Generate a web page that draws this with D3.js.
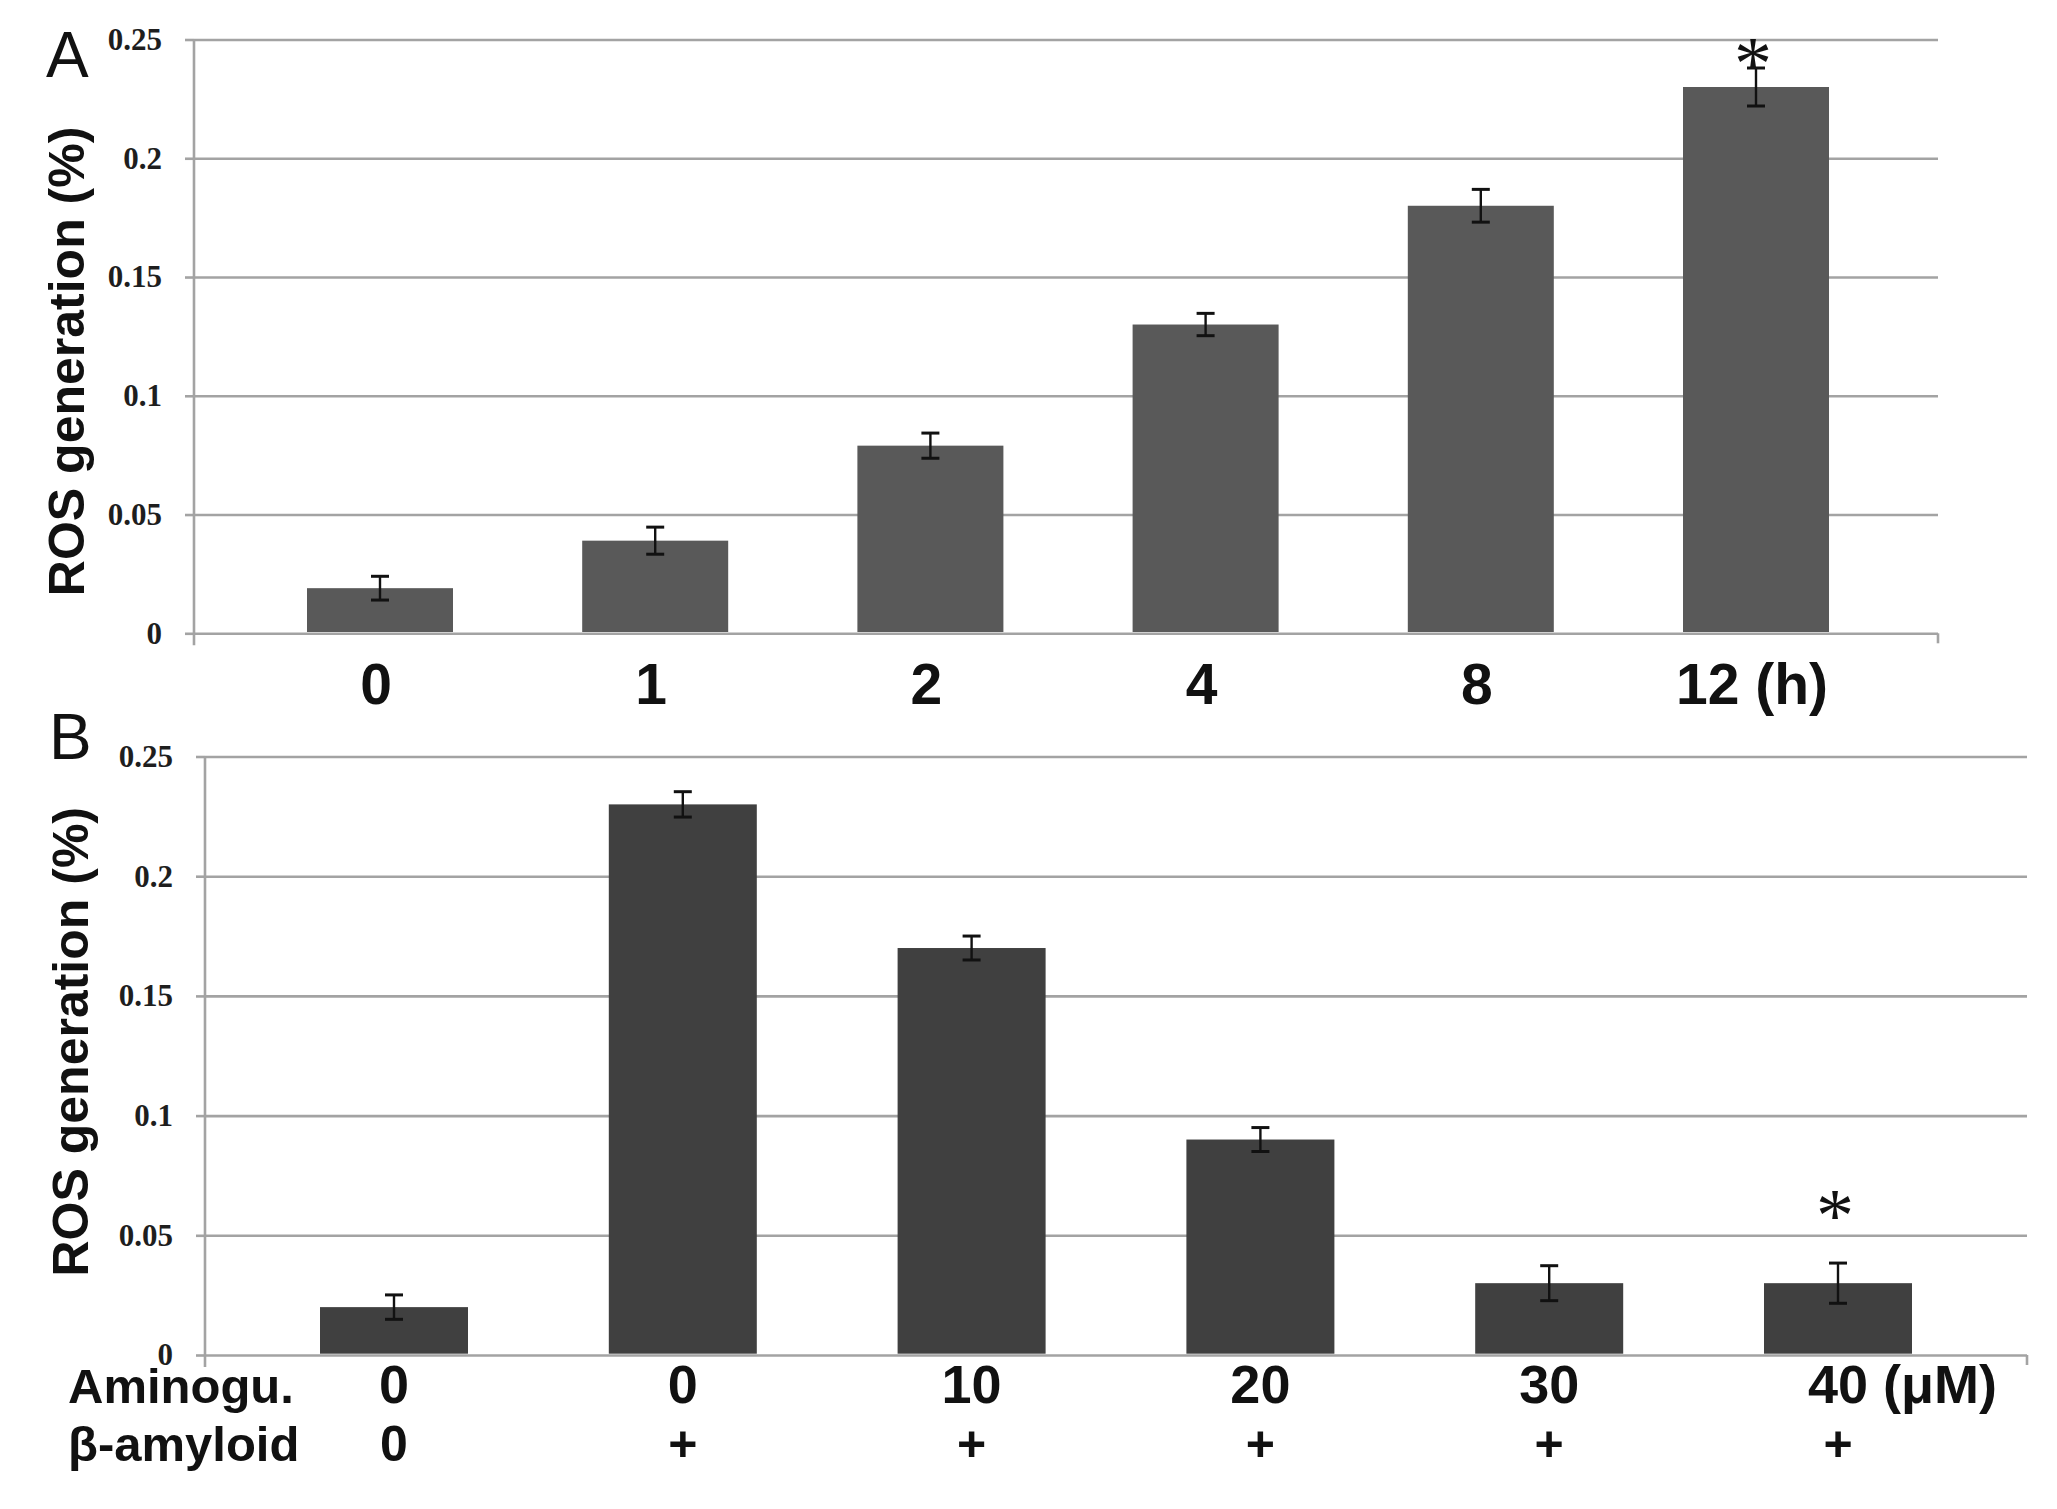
<!DOCTYPE html>
<html>
<head>
<meta charset="utf-8">
<script src="https://cdn.jsdelivr.net/npm/d3@7"></script>
<style>
  html, body { margin: 0; padding: 0; background: #fff; }
  svg { display: block; }
</style>
</head>
<body>
<svg id="chart" width="2057" height="1509"></svg>
<script>
// ---------------- DATA ----------------
const catsA = ["0", "1", "2", "4", "8", "12 (h)"];
const valsA = [0.019, 0.039, 0.079, 0.13, 0.18, 0.23];
const errA  = [0.005, 0.0057, 0.0053, 0.0047, 0.0069, 0.008];

const aminoB = ["0", "0", "10", "20", "30", "40"];
const aminoUnit = " (μM)";
const abetaB = ["0", "+", "+", "+", "+", "+"];
const valsB  = [0.02, 0.23, 0.17, 0.09, 0.03, 0.03];
const errB   = [0.0051, 0.0053, 0.005, 0.005, 0.0073, 0.0084];

const yTicks = [0, 0.05, 0.1, 0.15, 0.2, 0.25];
const yTickLabels = ["0", "0.05", "0.1", "0.15", "0.2", "0.25"];

const starsA = [{ i: 5, y: 0.246 }];
const starsB = [{ i: 5, y: 0.064 }];

const yTitle = "ROS generation (%)";
// --------------------------------------

const svg = d3.select("#chart");
const SANS = "'Liberation Sans', Arial, sans-serif";
const SERIF = "'Liberation Serif', 'Times New Roman', serif";
const GRID = "#a3a3a3";

function panel(cfg) {
  const g = svg.append("g");
  const y = d3.scaleLinear().domain([0, 0.25]).range([cfg.y0, cfg.y25]);
  const x = d3.scalePoint().domain(d3.range(cfg.vals.length)).range([cfg.xFirst, cfg.xLast]);

  // gridlines + tick labels
  const ax = g.append("g")
    .attr("transform", `translate(${cfg.left},0)`)
    .call(d3.axisLeft(y).tickValues(yTicks)
      .tickFormat((d, i) => yTickLabels[i])
      .tickSizeInner(-(cfg.right - cfg.left)).tickSizeOuter(0).tickPadding(32));
  ax.select(".domain").remove();
  ax.selectAll(".tick line").attr("stroke", GRID).attr("stroke-width", 2.6);
  ax.selectAll(".tick text")
    .attr("font-family", SERIF).attr("font-weight", "bold")
    .attr("font-size", 31).attr("fill", "#1e1e1e");
  // small outer ticks
  ax.selectAll(".tick").append("line")
    .attr("x1", -9).attr("x2", 0).attr("stroke", GRID).attr("stroke-width", 2.6);

  // vertical axis line
  g.append("line")
    .attr("x1", cfg.left).attr("x2", cfg.left)
    .attr("y1", y(0.25)).attr("y2", y(0) + 12)
    .attr("stroke", GRID).attr("stroke-width", 2.6);
  // right end tick
  g.append("line")
    .attr("x1", cfg.right).attr("x2", cfg.right)
    .attr("y1", y(0)).attr("y2", y(0) + 10)
    .attr("stroke", GRID).attr("stroke-width", 2.6);

  // bars
  g.selectAll("rect.bar").data(cfg.vals).join("rect")
    .attr("class", "bar")
    .attr("x", (d, i) => x(i) - cfg.bw / 2)
    .attr("width", cfg.bw)
    .attr("y", d => y(d))
    .attr("height", d => y(0) - y(d) - 1.3)
    .attr("fill", cfg.color);

  // error bars
  const eb = g.selectAll("g.err").data(cfg.vals).join("g").attr("class", "err");
  eb.append("line")
    .attr("x1", (d, i) => x(i)).attr("x2", (d, i) => x(i))
    .attr("y1", (d, i) => y(d + cfg.err[i])).attr("y2", (d, i) => y(d - cfg.err[i]))
    .attr("stroke", "#111").attr("stroke-width", 2.4);
  [1, -1].forEach(s => {
    eb.append("line")
      .attr("x1", (d, i) => x(i) - 9).attr("x2", (d, i) => x(i) + 9)
      .attr("y1", (d, i) => y(d + s * cfg.err[i])).attr("y2", (d, i) => y(d + s * cfg.err[i]))
      .attr("stroke", "#111").attr("stroke-width", 3);
  });

  // significance stars
  g.selectAll("text.star").data(cfg.stars).join("text")
    .attr("class", "star")
    .attr("x", d => x(d.i) - 3).attr("y", d => y(d.y))
    .attr("dy", "0.52em")
    .attr("text-anchor", "middle")
    .attr("font-family", SERIF).attr("font-size", 76).attr("fill", "#111")
    .text("*");

  // panel letter
  g.append("text").attr("x", cfg.letterX).attr("y", cfg.letterY)
    .attr("font-family", SANS).attr("font-size", 64).attr("fill", "#111")
    .text(cfg.letter);

  // y title
  g.append("text")
    .attr("transform", `translate(${cfg.titleX},${(y(0) + y(0.25)) / 2 + cfg.titleDy}) rotate(-90)`)
    .attr("text-anchor", "middle")
    .attr("font-family", SANS).attr("font-weight", "bold").attr("font-size", 50)
    .attr("fill", "#111")
    .text(yTitle);

  return { g, x, y };
}

// Panel A
const A = panel({
  vals: valsA, err: errA, stars: starsA,
  left: 194, right: 1938, y0: 633.3, y25: 39.5,
  xFirst: 380, xLast: 1756, bw: 146, color: "#595959",
  letter: "A", letterX: 46, letterY: 77, titleX: 84, titleDy: 25
});
A.g.selectAll("text.xlab").data(catsA).join("text")
  .attr("class", "xlab")
  .attr("x", (d, i) => A.x(i) - 4).attr("y", 704)
  .attr("text-anchor", "middle")
  .attr("font-family", SANS).attr("font-weight", "bold").attr("font-size", 57)
  .attr("fill", "#111")
  .text(d => d);

// Panel B
const B = panel({
  vals: valsB, err: errB, stars: starsB,
  left: 205, right: 2027, y0: 1355, y25: 756.5,
  xFirst: 394, xLast: 1838, bw: 148, color: "#404040",
  letter: "B", letterX: 49, letterY: 759, titleX: 88, titleDy: -14
});
const row1 = B.g.selectAll("text.r1").data(aminoB).join("text")
  .attr("class", "r1")
  .attr("x", (d, i) => B.x(i)).attr("y", 1403)
  .attr("text-anchor", "middle")
  .attr("font-family", SANS).attr("font-weight", "bold").attr("font-size", 54)
  .attr("fill", "#111")
  .text(d => d);
// unit after last value
const lastNode = row1.nodes()[aminoB.length - 1];
const lastW = lastNode.getComputedTextLength();
B.g.append("text")
  .attr("x", B.x(aminoB.length - 1) + lastW / 2).attr("y", 1403)
  .attr("font-family", SANS).attr("font-weight", "bold").attr("font-size", 54)
  .attr("fill", "#111").attr("xml:space", "preserve")
  .style("white-space", "pre")
  .text(aminoUnit);
B.g.selectAll("text.r2").data(abetaB).join("text")
  .attr("class", "r2")
  .attr("x", (d, i) => B.x(i)).attr("y", 1461)
  .attr("text-anchor", "middle")
  .attr("font-family", SANS).attr("font-weight", "bold").attr("font-size", 50)
  .attr("fill", "#111")
  .text(d => d);
B.g.append("text").attr("x", 68).attr("y", 1403)
  .attr("font-family", SANS).attr("font-weight", "bold").attr("font-size", 49)
  .attr("fill", "#111").text("Aminogu.");
B.g.append("text").attr("x", 68).attr("y", 1461)
  .attr("font-family", SANS).attr("font-weight", "bold").attr("font-size", 49)
  .attr("fill", "#111").text("β-amyloid");
</script>
</body>
</html>
